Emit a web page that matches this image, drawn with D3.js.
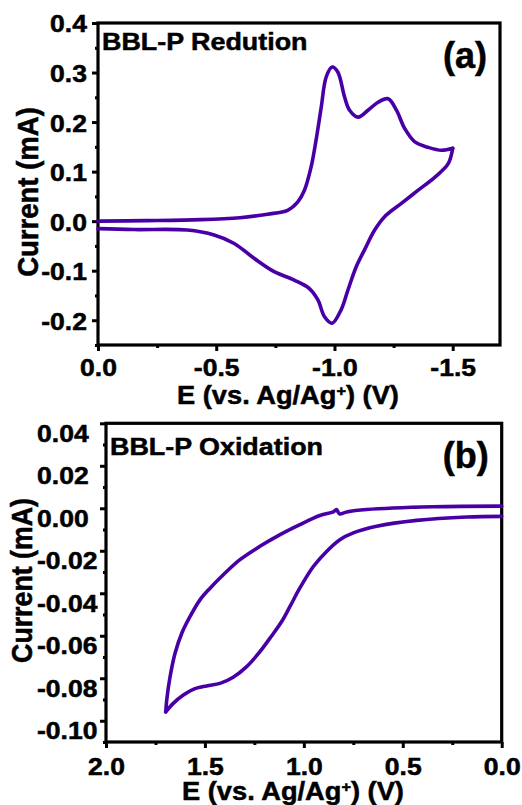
<!DOCTYPE html>
<html>
<head>
<meta charset="utf-8">
<script src="https://cdn.jsdelivr.net/npm/d3@7"></script>
<style>
  html, body { margin: 0; padding: 0; background: #fff; }
  svg { display: block; }
  text { font-family: Arial, "Liberation Sans", sans-serif; font-weight: bold; fill: #000; stroke: #000; stroke-width: 0.5px; }
</style>
</head>
<body>
<svg id="chart" width="522" height="805"></svg>
<script>
// Panel (a): BBL-P reduction scan, E (V) vs current (mA)
const redForwardE = [0.0, -0.2, -0.435, -0.6, -0.717, -0.802, -0.845, -0.873, -0.901, -0.922, -0.944, -0.965, -0.99, -1.014, -1.043, -1.064, -1.1, -1.142, -1.184, -1.227, -1.262, -1.297, -1.34, -1.396, -1.453, -1.5];
const redForwardI = [0.0, 0.001, 0.003, 0.007, 0.014, 0.022, 0.039, 0.0625, 0.109, 0.163, 0.23, 0.291, 0.311, 0.301, 0.25, 0.224, 0.21, 0.224, 0.24, 0.247, 0.224, 0.187, 0.16, 0.149, 0.143, 0.147];
const redReverseE = [-1.5, -1.481, -1.425, -1.354, -1.283, -1.212, -1.17, -1.127, -1.092, -1.057, -1.028, -0.99, -0.958, -0.93, -0.894, -0.83, -0.745, -0.66, -0.576, -0.491, -0.378, -0.151, 0.0];
const redReverseI = [0.147, 0.116, 0.089, 0.0625, 0.036, 0.009, -0.018, -0.058, -0.092, -0.139, -0.179, -0.206, -0.193, -0.159, -0.136, -0.119, -0.102, -0.075, -0.045, -0.028, -0.018, -0.017, -0.015];

// Panel (b): BBL-P oxidation scan
const oxForwardE = [0.0, 0.346, 0.683, 0.783, 0.82, 0.835, 0.851, 0.919, 1.02, 1.12, 1.222, 1.323, 1.407, 1.474, 1.525, 1.575, 1.617, 1.651, 1.676, 1.693, 1.698];
const oxForwardI = [0.001, 0.0007, -0.0006, -0.0017, -0.0026, -0.0006, -0.0017, -0.0034, -0.0077, -0.0124, -0.0179, -0.0242, -0.0313, -0.0376, -0.0431, -0.0509, -0.0588, -0.0682, -0.0792, -0.0902, -0.0958];
const oxReverseE = [1.698, 1.66, 1.609, 1.559, 1.491, 1.424, 1.357, 1.289, 1.222, 1.171, 1.112, 1.07, 1.02, 0.952, 0.885, 0.818, 0.75, 0.632, 0.43, 0.177, 0.0];
const oxReverseI = [-0.0958, -0.0918, -0.0879, -0.0852, -0.0836, -0.0824, -0.0795, -0.0745, -0.0675, -0.0611, -0.0533, -0.0462, -0.0375, -0.0274, -0.0203, -0.0148, -0.0116, -0.0085, -0.0057, -0.0041, -0.0038];

// Tick values
const redXTicks = [0.0, -0.5, -1.0, -1.5];
const redYTicks = [-0.2, -0.1, 0.0, 0.1, 0.2, 0.3, 0.4];
const oxXTicks = [2.0, 1.5, 1.0, 0.5, 0.0];
const oxYTicks = [-0.10, -0.08, -0.06, -0.04, -0.02, 0.00, 0.02, 0.04];

const lineColor = "#4800a6";
const svg = d3.select("#chart");

function zip(es, is) { return es.map((e, k) => ({ e: e, i: is[k] })); }

// widen glyphs horizontally about each text's anchor point
function hStretch(sel, f) {
  sel.each(function () {
    const t = d3.select(this);
    const x = +t.attr("x") || 0;
    t.attr("transform", `translate(${x * (1 - f)},0) scale(${f},1)`);
  });
}

function drawPanel(cfg) {
  const x = d3.scaleLinear().domain(cfg.xDomain).range([cfg.left, cfg.right]);
  const y = d3.scaleLinear().domain(cfg.yDomain).range([cfg.bottom, cfg.top]);
  const g = svg.append("g");
  const fmtX = d => d3.format(".1f")(d).replace("\u2212", "-");
  const fmtY = d => d3.format(cfg.yFormat)(d).replace("\u2212", "-");

  // minor ticks at half steps
  const xstep = cfg.xTicks[1] - cfg.xTicks[0];
  const xlo = Math.min(...cfg.xDomain), xhi = Math.max(...cfg.xDomain);
  const xMinor = cfg.xTicks.map(a => a + xstep / 2).filter(m => m >= xlo - 1e-9 && m <= xhi + 1e-9);
  const ystep = cfg.yTicks[1] - cfg.yTicks[0];
  const yMinor = [cfg.yTicks[0] - ystep].concat(cfg.yTicks).map(a => a + ystep / 2)
    .filter(m => m >= cfg.yDomain[0] - 1e-9 && m <= cfg.yDomain[1] + 1e-9);

  // x axis (bottom)
  const gx = g.append("g").attr("transform", `translate(0,${cfg.bottom})`)
    .call(d3.axisBottom(x).tickValues(cfg.xTicks).tickSize(6).tickFormat(fmtX));
  gx.select(".domain").remove();
  gx.selectAll(".tick line").attr("stroke", "#000").attr("stroke-width", 3);
  const xtl = gx.selectAll(".tick text")
    .attr("y", cfg.xLabelBase).attr("dy", null)
    .style("font-size", cfg.tickFont + "px")
    .attr("fill", "#000");
  hStretch(xtl, cfg.tickStretch);
  const gxm = g.append("g").attr("transform", `translate(0,${cfg.bottom})`)
    .call(d3.axisBottom(x).tickValues(xMinor).tickSize(3).tickFormat(""));
  gxm.select(".domain").remove();
  gxm.selectAll(".tick line").attr("stroke", "#000").attr("stroke-width", 3);

  // y axis (left)
  const gy = g.append("g").attr("transform", `translate(${cfg.left},0)`)
    .call(d3.axisLeft(y).tickValues(cfg.yTicks).tickSize(6).tickFormat(fmtY));
  gy.select(".domain").remove();
  gy.selectAll(".tick line").attr("stroke", "#000").attr("stroke-width", 3);
  const ytl = gy.selectAll(".tick text")
    .style("font-size", cfg.tickFont + "px")
    .attr("fill", "#000")
    .attr("y", cfg.yLabelShift)
    .attr("dy", "0.36em");
  if (cfg.yLabelAnchor === "start") {
    ytl.attr("text-anchor", "start").attr("x", cfg.yLabelX - cfg.left);
  } else {
    ytl.attr("x", -11);
  }
  hStretch(ytl, cfg.tickStretch);
  const gym = g.append("g").attr("transform", `translate(${cfg.left},0)`)
    .call(d3.axisLeft(y).tickValues(yMinor).tickSize(3).tickFormat(""));
  gym.select(".domain").remove();
  gym.selectAll(".tick line").attr("stroke", "#000").attr("stroke-width", 3);

  // frame
  g.append("rect")
    .attr("x", cfg.left).attr("y", cfg.top)
    .attr("width", cfg.right - cfg.left).attr("height", cfg.bottom - cfg.top)
    .attr("fill", "none").attr("stroke", "#000").attr("stroke-width", 3.2);

  // voltammogram
  const line = d3.line().x(d => x(d.e)).y(d => y(d.i)).curve(d3.curveCatmullRom.alpha(0.5));
  cfg.series.forEach(s => {
    g.append("path").datum(s)
      .attr("d", line)
      .attr("fill", "none")
      .attr("stroke", lineColor)
      .attr("stroke-width", 3.6)
      .attr("stroke-linejoin", "round")
      .attr("stroke-linecap", "round");
  });

  // panel labels
  const title = g.append("text").attr("x", cfg.left + 4).attr("y", cfg.titleY)
    .style("font-size", "24px").text(cfg.title);
  hStretch(title, 1.12);
  g.append("text").attr("x", cfg.right - 13).attr("y", cfg.tagY)
    .attr("text-anchor", "end").style("font-size", "36px").text(cfg.tag);

  // x axis title
  const xt = g.append("text").attr("x", cfg.xTitleX).attr("y", cfg.xTitleY)
    .attr("text-anchor", "middle").style("font-size", "25px");
  xt.append("tspan").text("E (vs. Ag/Ag");
  xt.append("tspan").attr("dy", "-0.55em").style("font-size", "15px").text("+");
  xt.append("tspan").attr("dy", "0.33em").text(") (V)");
  hStretch(xt, 1.09);

  // y axis title
  g.append("text")
    .attr("transform", `translate(${cfg.yTitleX},${cfg.yTitleY}) rotate(-90) scale(${cfg.yTitleLen},1.1)`)
    .attr("text-anchor", "middle").style("font-size", "27px")
    .text("Current (mA)");
}

drawPanel({
  left: 98, right: 500, top: 23, bottom: 345,
  xDomain: [0, -1.7], yDomain: [-0.25, 0.4],
  xTicks: redXTicks, yTicks: redYTicks, yFormat: ".1f",
  tickFont: 23.5, tickStretch: 1.13, yLabelAnchor: "end", yLabelShift: 0.5, xLabelBase: 31,
  series: [zip(redForwardE, redForwardI), zip(redReverseE, redReverseI)],
  title: "BBL-P Redution", titleY: 50, tag: "(a)", tagY: 68,
  xTitleX: 288, xTitleY: 404, yTitleX: 38, yTitleY: 192, yTitleLen: 1.02
});

drawPanel({
  left: 106, right: 501.7, top: 423.3, bottom: 742,
  xDomain: [2.0, 0.0], yDomain: [-0.11, 0.04],
  xTicks: oxXTicks, yTicks: oxYTicks, yFormat: ".2f",
  tickFont: 23.5, tickStretch: 1.13, yLabelAnchor: "start", yLabelX: 37, yLabelShift: 9.5, xLabelBase: 33,
  series: [zip(oxForwardE, oxForwardI), zip(oxReverseE, oxReverseI)],
  title: "BBL-P Oxidation", titleY: 455, tag: "(b)", tagY: 468,
  xTitleX: 293, xTitleY: 800, yTitleX: 32, yTitleY: 580.5, yTitleLen: 0.99
});
</script>
</body>
</html>
